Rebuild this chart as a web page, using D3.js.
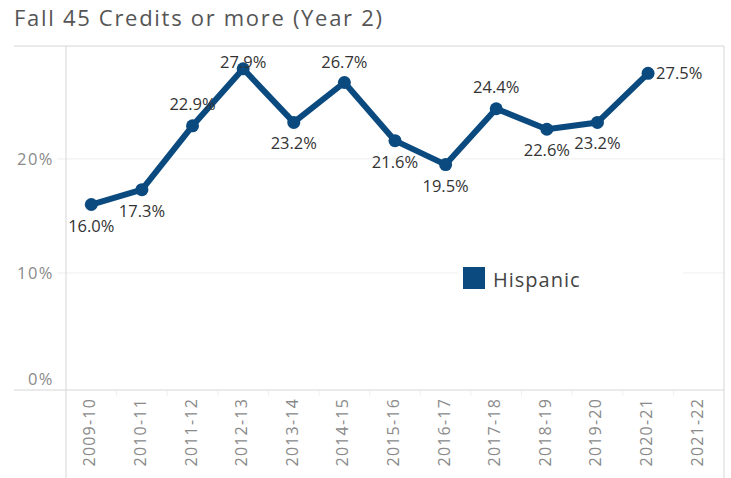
<!DOCTYPE html>
<html>
<head>
<meta charset="utf-8">
<script src="https://cdn.jsdelivr.net/npm/d3@7.9.0/dist/d3.min.js"></script>
<style>
  body { margin: 0; background: #fff; }
  svg { font-family: "Open Sans", "Noto Sans", sans-serif; }
</style>
</head>
<body>
<svg id="chart" width="731" height="478"></svg>
<script>
// chart data
const years = ['2009-10', '2010-11', '2011-12', '2012-13', '2013-14', '2014-15', '2015-16',
  '2016-17', '2017-18', '2018-19', '2019-20', '2020-21', '2021-22'];
const hispanic = [16.0, 17.3, 22.9, 27.9, 23.2, 26.7, 21.6, 19.5, 24.4, 22.6, 23.2, 27.5, null];
// where each value label sits: below, above or right of its point
const labelPos = ['below', 'below', 'above', 'above', 'below', 'above', 'below', 'below',
  'above', 'below', 'below', 'right', null];
const yTicks = [0, 10, 20];

const svg = d3.select('#chart');
const plotL = 66, plotR = 724, plotT = 46, plotB = 390;
const navy = '#0b4a7f';

const x = d3.scaleBand().domain(years).range([plotL, plotR]);
const y = d3.scaleLinear().domain([0, 29.9]).range([387, plotT]);

// title
svg.append('text')
  .attr('x', 14).attr('y', 26)
  .attr('fill', '#555').attr('font-size', 22)
  .attr('letter-spacing', 1.7)
  .text('Fall 45 Credits or more (Year 2)');

// gridlines
svg.append('g').selectAll('line')
  .data(yTicks.filter(d => d > 0))
  .join('line')
  .attr('x1', 57).attr('x2', plotR)
  .attr('y1', d => y(d)).attr('y2', d => y(d))
  .attr('stroke', '#eee');

// legend background hides the grid behind it
svg.append('rect')
  .attr('x', 458).attr('y', 262).attr('width', 225).attr('height', 32)
  .attr('fill', '#fff');

// frame
svg.append('line').attr('x1', 14).attr('x2', plotR).attr('y1', plotT).attr('y2', plotT)
  .attr('stroke', '#d6d6d6');
svg.append('line').attr('x1', 14).attr('x2', plotR).attr('y1', plotB).attr('y2', plotB)
  .attr('stroke', '#d6d6d6');
svg.append('line').attr('x1', plotL).attr('x2', plotL).attr('y1', plotT).attr('y2', 478)
  .attr('stroke', '#d6d6d6');
svg.append('line').attr('x1', plotR).attr('x2', plotR).attr('y1', plotT).attr('y2', 478)
  .attr('stroke', '#d6d6d6');

// faint band separators under the axis
svg.append('g').selectAll('line')
  .data(years.slice(1))
  .join('line')
  .attr('x1', d => x(d)).attr('x2', d => x(d))
  .attr('y1', plotB + 1).attr('y2', plotB + 6)
  .attr('stroke', '#f0f0f0');

// y tick labels (0% is lifted above the axis line)
svg.append('g').selectAll('text')
  .data(yTicks)
  .join('text')
  .attr('x', 54).attr('y', d => d === 0 ? y(d) - 2 : y(d) + 6)
  .attr('text-anchor', 'end')
  .attr('fill', '#8a8a8a').attr('font-size', 16.5)
  .attr('letter-spacing', 1.5)
  .text(d => d + '%');

// x tick labels, rotated
svg.append('g').selectAll('text')
  .data(years)
  .join('text')
  .attr('transform', d => `translate(${x(d) + x.bandwidth() / 2 + 4},${plotB + 8}) rotate(-90)`)
  .attr('text-anchor', 'end')
  .attr('fill', '#8a8a8a').attr('font-size', 16)
  .attr('letter-spacing', 1.2)
  .text(d => d);

// the line
const pts = years.map((yr, i) => ({ yr, v: hispanic[i], pos: labelPos[i] })).filter(d => d.v != null);
const cx = d => x(d.yr) + x.bandwidth() / 2;

svg.append('path')
  .datum(pts)
  .attr('fill', 'none')
  .attr('stroke', navy).attr('stroke-width', 6)
  .attr('stroke-linejoin', 'round')
  .attr('d', d3.line().x(cx).y(d => y(d.v)));

svg.append('g').selectAll('circle')
  .data(pts)
  .join('circle')
  .attr('cx', cx).attr('cy', d => y(d.v))
  .attr('r', 6.5)
  .attr('fill', navy);

// value labels (labels above are kept inside the plot top)
svg.append('g').selectAll('text')
  .data(pts)
  .join('text')
  .attr('x', d => d.pos === 'right' ? cx(d) + 8 : cx(d))
  .attr('y', d => d.pos === 'above' ? Math.max(y(d.v) - 16, plotT + 22)
    : d.pos === 'below' ? y(d.v) + 27 : y(d.v) + 6)
  .attr('text-anchor', d => d.pos === 'right' ? 'start' : 'middle')
  .attr('fill', '#333').attr('font-size', 16.5)
  .text(d => d.v.toFixed(1) + '%');

// legend
svg.append('rect')
  .attr('x', 463).attr('y', 267).attr('width', 22).attr('height', 22)
  .attr('fill', navy);
svg.append('text')
  .attr('x', 493).attr('y', 287)
  .attr('fill', '#444').attr('font-size', 20)
  .attr('letter-spacing', 1)
  .text('Hispanic');
</script>
</body>
</html>
